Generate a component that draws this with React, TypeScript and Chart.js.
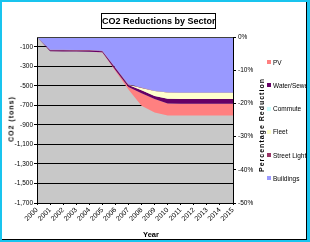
import React, { useEffect, useRef } from 'react';
import { Chart, registerables } from 'chart.js';

Chart.register(...registerables);

const years = ['2000', '2001', '2002', '2003', '2004', '2005', '2006', '2007', '2008', '2009', '2010', '2011', '2012', '2013', '2014', '2015'];
const buildings = [0, -130, -131, -132, -133, -140, -313, -485, -518, -550, -565, -568, -568, -568, -568, -568];
const streetLights = [0, -5, -5, -5, -5, -5, -5, -5, -4, -4, -4, -4, -4, -4, -4, -4];
const fleet = [0, 0, 0, 0, 0, 0, 0, -2, -23, -51, -63, -63, -63, -63, -63, -63];
const commute = [0, 0, 0, 0, 0, 0, 0, 0, 0, 0, 0, 0, 0, 0, 0, 0];
const waterSewer = [0, -12, -12, -12, -12, -12, -20, -20, -30, -30, -48, -48, -48, -48, -48, -48];
const pv = [0, 0, 0, 0, 0, -2, -10, -26, -128, -137, -125, -122, -122, -122, -122, -122];
const leftTicks = [-100, -300, -500, -700, -900, -1100, -1300, -1500, -1700];
const rightTicks = [0, -10, -20, -30, -40, -50];

const seriesNames = ['Buildings', 'Street Lights', 'Fleet', 'Commute', 'Water/Sewer', 'PV'];
const seriesData = [buildings, streetLights, fleet, commute, waterSewer, pv];
const seriesColors = ['#9999FF', '#993366', '#FFFFCC', '#CCFFFF', '#660066', '#FF8080'];

const font = 'Liberation Sans, Arial, sans-serif';

const plotBg = {
  id: 'plotBg',
  beforeDraw(chart: any) {
    const { ctx, chartArea: a } = chart;
    ctx.save();
    ctx.fillStyle = '#C8C8C8';
    ctx.fillRect(a.left, a.top, a.right - a.left, a.bottom - a.top);
    ctx.restore();
  },
  afterDraw(chart: any) {
    const { ctx, chartArea: a } = chart;
    ctx.save();
    ctx.strokeStyle = '#404040';
    ctx.lineWidth = 1;
    ctx.beginPath();
    ctx.moveTo(a.left, Math.round(a.top) + 0.5);
    ctx.lineTo(a.right, Math.round(a.top) + 0.5);
    ctx.stroke();
    ctx.restore();
  },
};

function ChartCanvas() {
  const ref = useRef<HTMLCanvasElement>(null);
  useEffect(() => {
    const canvas = ref.current!;
    const chart = new Chart(canvas, {
      type: 'line',
      data: {
        labels: years,
        datasets: seriesNames.map((name, i) => ({
          label: name,
          data: seriesData[i],
          backgroundColor: seriesColors[i],
          borderColor: seriesColors[i],
          borderWidth: 0,
          pointRadius: 0,
          tension: 0,
          fill: i === 0 ? 'origin' : '-1',
          yAxisID: 'y',
        })),
      },
      options: {
        animation: false,
        responsive: false,
        maintainAspectRatio: false,
        layout: { padding: { left: 0, right: 0, top: 37, bottom: 0 } },
        plugins: { legend: { display: false }, tooltip: { enabled: false }, title: { display: false } },
        scales: {
          x: {
            type: 'category',
            offset: false,
            grid: { display: true, drawOnChartArea: false, drawTicks: true, tickLength: 2, color: '#000' },
            border: { display: true, color: '#000', width: 1 },
            ticks: {
              autoSkip: false,
              maxRotation: 45,
              minRotation: 45,
              padding: 1,
              color: '#000',
              font: { family: font, size: 7 },
            },
            afterFit(scale: any) { scale.height = 39; },
          },
          y: {
            position: 'left',
            stacked: true,
            min: -1700,
            max: 0,
            afterBuildTicks(scale: any) { scale.ticks = leftTicks.map((v) => ({ value: v })); },
            grid: { color: '#000', lineWidth: 1, drawTicks: true, tickLength: 3 },
            border: { display: true, color: '#000', width: 1 },
            ticks: {
              padding: 1,
              color: '#000',
              font: { family: font, size: 6.5 },
              callback: (v: any) => Number(v).toLocaleString('en-US'),
            },
            afterFit(scale: any) { scale.width = 37; },
          },
          y2: {
            position: 'right',
            min: -50,
            max: 0,
            afterBuildTicks(scale: any) { scale.ticks = rightTicks.map((v) => ({ value: v })); },
            grid: { drawOnChartArea: false, color: '#000', drawTicks: true, tickLength: 3 },
            border: { display: true, color: '#000', width: 1 },
            ticks: {
              padding: 2,
              color: '#000',
              font: { family: font, size: 6.5 },
              callback: (v: any) => v + '%',
            },
            afterFit(scale: any) { scale.width = 77; },
          },
        },
      },
      plugins: [plotBg],
    });
    return () => chart.destroy();
  }, []);
  return <canvas ref={ref} width={310} height={242} style={{ position: 'absolute', left: 0, top: 0, width: 310, height: 242 }} />;
}

export default function App() {
  useEffect(() => { document.body.style.margin = '0'; }, []);
  const legendOrder = [5, 4, 3, 2, 1, 0];
  const legendY = [62, 85, 108.5, 131.5, 155, 178];
  return (
    <div style={{ position: 'relative', width: 310, height: 242, background: '#19C4EE', overflow: 'hidden' }}>
      <div style={{ position: 'absolute', left: 2, top: 2, width: 304, height: 237, background: '#fff', borderRight: '1px solid #000', borderBottom: '1px solid #000' }} />
      <div style={{ position: 'absolute', left: 0, top: 0, width: 307, height: 240, overflow: 'hidden' }}>
        <ChartCanvas />
        <div style={{ position: 'absolute', left: 101, top: 13, width: 113, height: 14, border: '1px solid #000', fontFamily: font, fontWeight: 'bold', fontSize: 9, lineHeight: '14px', textAlign: 'center', whiteSpace: 'nowrap', color: '#000' }}>CO2 Reductions by Sector</div>
        <div style={{ position: 'absolute', left: 11, top: 119, transform: 'translate(-50%, -50%) rotate(-90deg)', fontFamily: font, fontWeight: 'bold', fontSize: 7, letterSpacing: 1, whiteSpace: 'nowrap', color: '#000' }}>CO2 (tons)</div>
        <div style={{ position: 'absolute', left: 260.5, top: 124.5, transform: 'translate(-50%, -50%) rotate(-90deg)', fontFamily: font, fontWeight: 'bold', fontSize: 7, letterSpacing: 1, whiteSpace: 'nowrap', color: '#000' }}>Percentage Reduction</div>
        <div style={{ position: 'absolute', left: 151, top: 233.5, transform: 'translate(-50%, -50%)', fontFamily: font, fontWeight: 'bold', fontSize: 7.5, whiteSpace: 'nowrap', color: '#000' }}>Year</div>
        {legendOrder.map((idx, k) => (
          <div key={seriesNames[idx]} style={{ position: 'absolute', left: 267, top: legendY[k] - 5, height: 10, display: 'flex', alignItems: 'center', whiteSpace: 'nowrap' }}>
            <div style={{ width: 4, height: 4, background: seriesColors[idx], marginRight: 2 }} />
            <span style={{ fontFamily: font, fontSize: 6.5, color: '#000' }}>{seriesNames[idx]}</span>
          </div>
        ))}
      </div>
    </div>
  );
}
